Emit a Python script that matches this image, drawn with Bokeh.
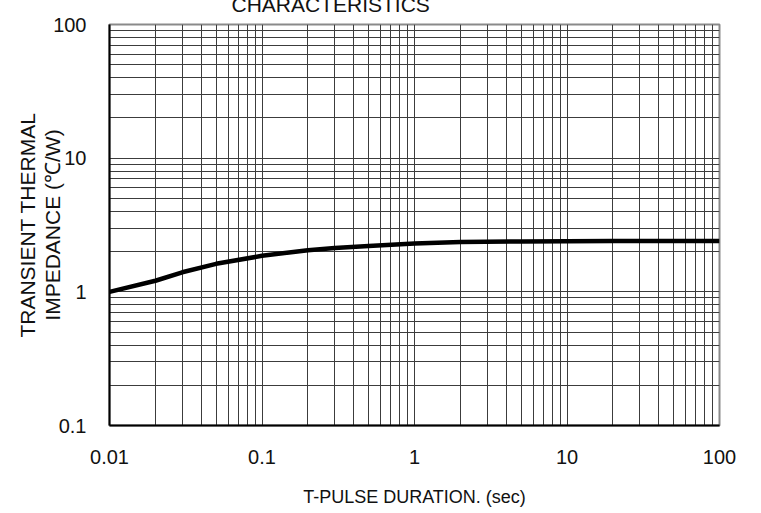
from bokeh.plotting import figure
from bokeh.models import FixedTicker
from bokeh.embed import file_html
from bokeh.resources import INLINE

# ---- data ----
pulse_time = [0.01, 0.02, 0.03, 0.05, 0.1, 0.2, 0.3, 0.5, 1, 2, 5, 10, 20, 50, 100]
thermal_impedance = [1.0, 1.21, 1.40, 1.62, 1.86, 2.05, 2.13, 2.20, 2.30, 2.36, 2.38, 2.39, 2.40, 2.40, 2.40]

x_ticks = [0.01, 0.1, 1, 10, 100]
x_tick_labels = ["0.01", "0.1", "1", "10", "100"]
y_ticks = [0.1, 1, 10, 100]
y_tick_labels = ["0.1", "1", "10", "100"]

title_text = "CHARACTERISTICS"
x_title = "T-PULSE DURATION. (sec)"
y_title = "TRANSIENT THERMAL\nIMPEDANCE (\u2103/W)"

FONT = "Liberation Sans"
SHIFT = 20
TOP, BOTTOM = 24, 87
W, H = 745, 401 + TOP + BOTTOM + SHIFT

p = figure(width=W, height=H, x_axis_type="log", y_axis_type="log",
           x_range=(x_ticks[0], x_ticks[-1]), y_range=(y_ticks[0], y_ticks[-1]),
           output_backend="svg", toolbar_location=None,
           min_border_left=101, min_border_right=34, min_border_top=TOP + SHIFT,
           min_border_bottom=BOTTOM,
           styles={"position": "absolute", "left": "8px", "top": f"-{SHIFT}px"})
p.background_fill_color = "white"
p.border_fill_color = "white"
p.outline_line_color = "#8a8a8a"
p.outline_line_width = 2

p.title.text = title_text
p.title.text_font = FONT
p.title.text_font_size = "21px"
p.title.text_font_style = "normal"
p.title.text_color = "#111111"
p.title.align = "left"
p.title.offset = 122
p.title.standoff = 17


def minors(ticks):
    out = []
    for t in ticks[:-1]:
        for k in range(2, 10):
            out.append(t * k)
    return out


p.xaxis.ticker = FixedTicker(ticks=x_ticks, minor_ticks=minors(x_ticks))
p.yaxis.ticker = FixedTicker(ticks=y_ticks, minor_ticks=minors(y_ticks))
p.xaxis.major_label_overrides = {t: s for t, s in zip(x_ticks, x_tick_labels)}
p.yaxis.major_label_overrides = {t: s for t, s in zip(y_ticks, y_tick_labels)}

for ax in (p.xaxis, p.yaxis):
    ax.major_tick_line_color = None
    ax.minor_tick_line_color = None
    ax.axis_line_color = "black"
    ax.axis_line_width = 2
    ax.major_label_text_font = FONT
    ax.major_label_text_font_size = "20px"
    ax.major_label_text_color = "#111111"
    ax.major_label_text_font_style = "normal"
    ax.axis_label_text_font = FONT
    ax.axis_label_text_font_style = "normal"
    ax.axis_label_text_color = "#111111"
p.xaxis.major_label_standoff = 18
p.yaxis.major_label_standoff = 17

p.xaxis.axis_label = x_title
p.xaxis.axis_label_text_font_size = "18px"
p.xaxis.axis_label_standoff = 20

p.yaxis.axis_label = y_title
p.yaxis.axis_label_text_font_size = "21px"
p.yaxis.axis_label_text_line_height = 1.1
p.yaxis.axis_label_standoff = -14

for g in (p.xgrid, p.ygrid):
    g.grid_line_color = "#3c3c3c"
    g.grid_line_width = 1
    g.minor_grid_line_color = "#3c3c3c"
    g.minor_grid_line_width = 1

p.line(pulse_time, thermal_impedance, line_color="black", line_width=4.5)

open("out.html", "w").write(file_html(p, INLINE))
